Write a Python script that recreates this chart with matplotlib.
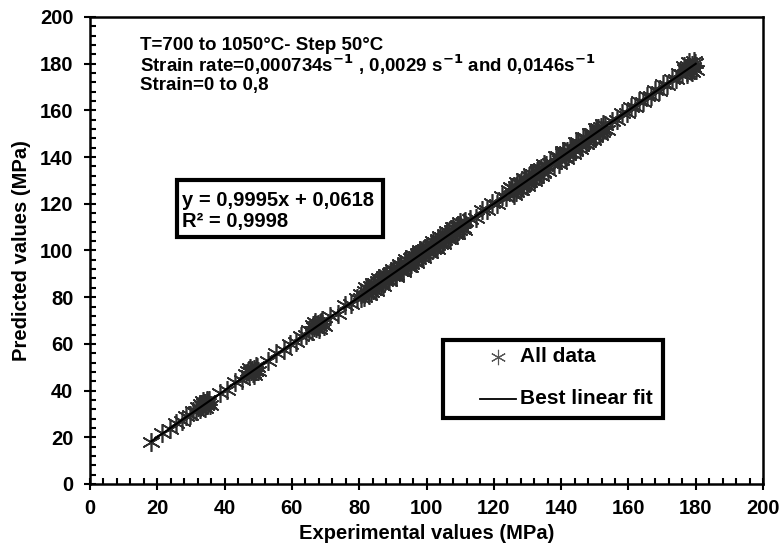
import matplotlib
matplotlib.use("Agg")
import matplotlib.pyplot as plt
from matplotlib.ticker import MultipleLocator
from matplotlib.patches import Rectangle

plt.rcParams['font.family'] = ['Liberation Sans', 'DejaVu Sans']
plt.rcParams['font.weight'] = 'bold'

# experimental (x) vs predicted (y)
exp_vals = [18.2, 21.5, 23.9, 25.6, 27.3, 28.6, 29.8, 30.7, 31.5, 32.2, 32.8, 33.3, 33.7, 34.1, 34.4, 34.7, 35.0, 35.3, 33.9, 34.6,
            38.5, 40.6, 43.2, 45.1, 46.3, 47.2, 47.8, 48.3, 48.7, 49.1, 49.5, 48.0, 48.9,
            53.0, 55.4, 57.6, 59.5, 61.2, 62.8, 64.1, 65.2, 66.0, 66.7, 67.3, 67.8, 68.2, 68.6, 69.0, 67.5, 68.4,
            71.2, 73.6, 75.8, 77.7, 79.3, 80.6, 81.7, 82.6, 83.4, 84.1, 84.7, 85.3, 85.9, 86.5, 87.0, 87.6, 88.1, 88.7, 89.2, 89.8,
            90.3, 90.9, 91.4, 92.0, 92.5, 93.1, 93.6, 94.2, 94.7, 95.3, 95.8, 96.4, 96.9, 97.5, 98.0, 98.6, 99.1, 99.7, 100.2, 100.8,
            101.3, 101.9, 102.4, 103.0, 103.5, 104.1, 104.6, 105.2, 105.7, 106.3, 106.8, 107.4, 107.9, 108.5, 109.0, 109.6, 110.1, 110.7, 111.2,
            113.0, 114.8, 116.5, 118.1, 119.6, 121.0, 122.3, 123.5, 124.6, 125.6, 126.5, 127.3, 128.0, 128.7, 129.3, 129.9, 130.5, 131.1, 131.7,
            132.3, 132.9, 133.5, 134.1, 134.7, 135.3,
            136.8, 138.0, 139.0, 139.8, 140.5, 141.1, 141.7, 142.4, 143.2, 144.1, 145.1, 146.2, 147.3, 148.3, 149.2, 150.0, 150.7, 151.3, 151.9,
            152.5, 153.0,
            155.0, 156.6, 158.1, 159.5, 160.8, 162.0, 163.2, 164.4, 165.6, 166.8, 168.0, 169.2, 170.4, 171.6, 172.8, 174.0, 175.1, 176.0, 176.7,
            177.3, 177.8, 178.3, 178.8, 179.3, 179.8, 177.0, 178.5,
            # second pass over the dense clusters
            33.5, 34.2, 34.9, 35.6, 33.0, 47.5, 48.6, 49.3, 47.0, 49.8, 67.0, 68.0, 68.8, 69.4, 66.4,
            82.0, 83.0, 84.0, 85.0, 86.0, 87.0, 88.0, 89.0, 90.0, 91.0, 92.0, 93.0, 94.0, 95.0, 96.0,
            97.0, 98.0, 99.0, 100.0, 101.0, 102.0, 103.0, 104.0, 105.0, 106.0, 107.0, 108.0, 109.0, 110.0, 111.0,
            125.0, 126.0, 127.0, 128.0, 129.0, 130.0, 131.0, 132.0, 133.0, 134.0, 135.0, 136.0,
            138.5, 139.5, 140.5, 141.5, 142.5, 143.5, 144.5, 145.5, 146.5, 147.5, 148.5, 149.5, 150.5, 151.5, 152.5, 153.5,
            176.5, 177.5, 178.0, 179.0, 179.5, 180.0,
            # third pass
            80.5, 81.5, 82.5, 83.5, 84.5, 85.5, 86.5, 87.5, 88.5, 89.5, 90.5, 91.5, 92.5, 93.5, 94.5, 95.5,
            96.5, 97.5, 98.5, 99.5, 100.5, 101.5, 102.5, 103.5, 104.5, 105.5, 106.5, 107.5, 108.5, 109.5, 110.5, 111.5,
            125.5, 126.5, 127.5, 128.5, 129.5, 130.5, 131.5, 132.5, 133.5, 134.5, 135.5,
            139.0, 140.0, 141.0, 142.0, 143.0, 144.0, 145.0, 146.0, 147.0, 148.0, 149.0, 150.0, 151.0, 152.0]
pred_vals = [18.0, 21.9, 23.5, 26.1, 27.0, 29.0, 29.5, 31.2, 31.1, 32.8, 32.3, 33.9, 33.2, 34.8, 33.8, 35.4, 34.5, 35.9, 34.6, 33.9,
             39.0, 40.3, 43.6, 44.7, 46.9, 46.6, 48.5, 47.7, 49.4, 48.5, 50.1, 48.6, 48.2,
             52.6, 55.9, 57.2, 60.0, 60.8, 63.3, 63.7, 65.8, 65.4, 67.4, 66.6, 68.5, 67.6, 69.3, 68.3, 68.1, 69.1,
             71.8, 73.0, 76.7, 77.2, 79.7, 79.5, 82.6, 82.0, 84.6, 83.1, 85.9, 84.4, 86.6, 85.2, 88.3, 86.8, 89.0, 87.4, 90.5, 88.9,
             91.1, 89.7, 92.7, 91.3, 93.4, 91.8, 94.9, 93.5, 95.6, 94.1, 97.0, 95.7, 97.8, 96.2, 99.3, 97.9, 100.0, 98.4, 101.5, 100.0,
             102.2, 100.6, 103.7, 102.3, 104.4, 102.8, 105.9, 104.5, 106.6, 105.0, 108.1, 106.7, 108.8, 107.2, 110.3, 108.9, 110.9, 109.5, 112.3,
             113.6, 114.1, 117.3, 117.5, 120.4, 120.1, 123.2, 122.7, 125.7, 124.7, 127.6, 126.3, 129.2, 127.6, 130.6, 128.8, 131.7, 130.0, 132.9,
             131.2, 134.1, 132.4, 135.2, 133.7, 136.0,
             137.3, 137.2, 140.1, 138.9, 141.6, 140.0, 142.8, 141.6, 144.0, 143.2, 146.0, 145.4, 148.2, 147.4, 150.3, 149.1, 151.8, 150.4, 152.9,
             151.7, 153.6,
             155.6, 156.0, 158.8, 158.9, 161.5, 161.3, 163.9, 163.8, 166.2, 166.1, 168.7, 168.5, 171.1, 170.9, 173.4, 173.3, 175.8, 175.4, 177.6,
             176.5, 178.9, 177.4, 179.6, 178.4, 180.3, 178.1, 176.9,
             35.6, 32.6, 36.0, 33.8, 34.4, 49.8, 46.8, 50.4, 48.2, 48.4, 69.2, 66.5, 70.2, 67.6, 67.9,
             84.3, 80.9, 86.1, 82.8, 88.2, 84.9, 90.1, 86.8, 92.2, 88.7, 94.1, 90.8, 96.2, 92.9, 98.0,
             94.8, 100.3, 96.9, 102.1, 98.8, 104.2, 100.7, 106.0, 102.9, 108.3, 104.8, 110.1, 106.9, 112.0, 108.9,
             127.3, 123.8, 129.2, 125.9, 131.1, 127.8, 133.2, 129.9, 135.0, 131.8, 137.0, 133.9,
             140.6, 137.2, 142.7, 139.3, 144.4, 141.2, 146.5, 143.3, 148.6, 145.4, 150.3, 147.2, 152.6, 149.4, 154.1, 151.6,
             179.2, 175.6, 180.6, 176.3, 181.0, 177.4,
             81.3, 80.2, 83.6, 82.1, 85.4, 86.9, 85.9, 88.9, 87.2, 90.8, 89.3, 92.9, 91.2, 94.8, 93.3, 96.7,
             95.1, 98.9, 97.2, 100.8, 99.3, 102.9, 101.1, 104.8, 103.3, 106.9, 105.2, 108.8, 107.3, 110.7, 109.2, 112.6,
             126.8, 125.2, 128.9, 127.1, 130.8, 129.3, 132.9, 131.1, 134.7, 133.2, 136.6,
             140.5, 138.7, 142.4, 140.8, 144.3, 142.6, 146.4, 144.7, 148.5, 146.6, 150.4, 148.8, 152.3, 150.6]

fit_slope = 0.9995
fit_icpt = 0.0618
fit_x = [min(exp_vals), max(exp_vals)]
fit_y = [fit_slope * v + fit_icpt for v in fit_x]

fig = plt.figure(figsize=(7.81, 5.46), dpi=100)
ax = fig.add_axes([0.1152, 0.1136, 0.8618, 0.8553])

star = (6, 2, 0)
mcol = '#2e2e2e'
ax.plot(exp_vals, pred_vals, linestyle='none', marker=star, markersize=13.5,
        markeredgecolor=mcol, markeredgewidth=1.2, color=mcol, zorder=2)
ax.plot(fit_x, fit_y, color='black', lw=1.5, zorder=3)

ax.set_xlim(0, 200)
ax.set_ylim(0, 200)
ax.xaxis.set_major_locator(MultipleLocator(20))
ax.yaxis.set_major_locator(MultipleLocator(20))
ax.xaxis.set_minor_locator(MultipleLocator(4))
ax.yaxis.set_minor_locator(MultipleLocator(4))
ax.tick_params(which='major', direction='inout', length=8, width=1.5, labelsize=14.5)
ax.tick_params(axis='x', which='major', pad=7)
ax.tick_params(axis='y', which='major', pad=8)
ax.tick_params(which='minor', direction='in', length=4, width=1.5)
for s in ax.spines.values():
    s.set_linewidth(1.8)

ax.set_xlabel('Experimental values (MPa)', fontsize=14.5, fontweight='bold', labelpad=4)
ax.set_ylabel('Predicted values (MPa)', fontsize=14.5, fontweight='bold', labelpad=6)

# conditions block
ax.text(0.074, 0.94, 'T=700 to 1050°C- Step 50°C', transform=ax.transAxes,
        fontsize=13.5, fontweight='bold', va='center')
ax.text(0.074, 0.897, 'Strain rate=0,000734s$^{\\mathbf{-1}}$ , 0,0029 s$^{\\mathbf{-1}}$ and 0,0146s$^{\\mathbf{-1}}$',
        transform=ax.transAxes, fontsize=13.5, fontweight='bold', va='center')
ax.text(0.074, 0.854, 'Strain=0 to 0,8', transform=ax.transAxes,
        fontsize=13.5, fontweight='bold', va='center')

# equation box
ax.add_patch(Rectangle((0.1293, 0.5289), 0.3061, 0.1221, transform=ax.transAxes,
                       facecolor='white', edgecolor='black', lw=3, zorder=4))
ax.text(0.1367, 0.608, 'y = 0,9995x + 0,0618', transform=ax.transAxes,
        fontsize=14.5, fontweight='bold', va='center', zorder=5)
ax.text(0.1367, 0.561, 'R² = 0,9998', transform=ax.transAxes,
        fontsize=14.5, fontweight='bold', va='center', zorder=5)

# legend box
ax.add_patch(Rectangle((0.5245, 0.1413), 0.3269, 0.1671, transform=ax.transAxes,
                       facecolor='white', edgecolor='black', lw=3, zorder=4))
ax.plot([0.6063], [0.2719], transform=ax.transAxes, linestyle='none', marker=star,
        markersize=11, markeredgecolor='#555555', markeredgewidth=0.8, zorder=5)
ax.plot([0.5795, 0.6330], [0.182, 0.182], transform=ax.transAxes, color='black', lw=1.3, zorder=5)
ax.text(0.6389, 0.2719, 'All data', transform=ax.transAxes,
        fontsize=15, fontweight='bold', va='center', zorder=5)
ax.text(0.6389, 0.182, 'Best linear fit', transform=ax.transAxes,
        fontsize=15, fontweight='bold', va='center', zorder=5)

fig.savefig('out.png', dpi=100)
